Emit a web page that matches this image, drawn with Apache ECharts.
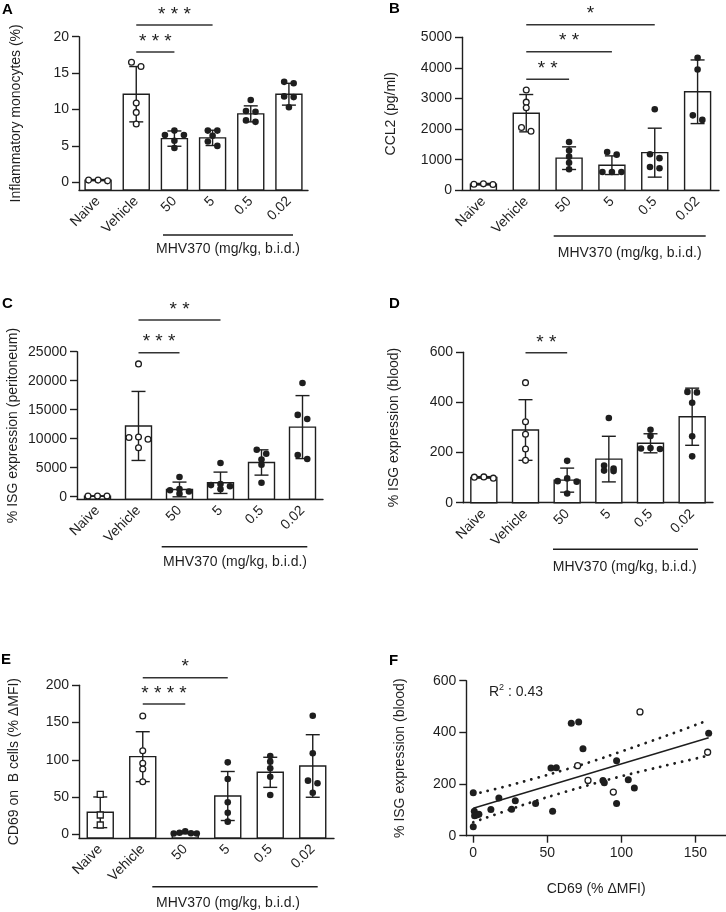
<!DOCTYPE html>
<html><head><meta charset="utf-8">
<script src="https://cdn.jsdelivr.net/npm/echarts@6/dist/echarts.min.js"></script>
<style>html,body{margin:0;padding:0;background:#fff}#c{width:726px;height:912px}</style>
</head><body><div id="c"></div>
<script>
// ---------------- DATA ----------------
const categories = ['Naive', 'Vehicle', '50', '5', '0.5', '0.02'];

// Panel A: Inflammatory monocytes (%)
const aPoints = [[0.2, 0.3, 0.3], [16.5, 15.9, 10.9, 9.6, 8.0], [7.1, 6.5, 6.5, 5.7, 4.7], [7.1, 7.1, 6.4, 5.6, 5.0], [11.3, 9.8, 9.7, 8.5, 8.3], [13.8, 13.6, 11.8, 11.7, 10.3]];
const aMean = [0.3, 12.1, 6.0, 6.1, 9.4, 12.1];
const aSD = [0.08, 3.8, 1.05, 1.05, 1.1, 1.5];
const aBrackets = [[1, 2, 17.9, '* * *'], [1, 3, 21.6, '* * *']];

// Panel B: CCL2 (pg/ml)
const bPoints = [[190, 210, 200], [3280, 2880, 2700, 2050, 1930], [1580, 1300, 1100, 900, 690], [1250, 1165, 600, 600, 600], [2650, 1180, 1050, 760, 720], [4330, 3950, 2450, 2300]];
const bMean = [200, 2520, 1050, 820, 1230, 3220];
const bSD = [25, 610, 370, 305, 800, 1040];
const bBrackets = [[1, 2, 3627, '* *'], [1, 3, 4529, '* *'], [1, 4, 5412, '*']];

// Panel C: % ISG expression (peritoneum)
const cPoints = [[100, 100, 100], [22900, 10300, 10200, 9900, 8450], [3400, 1300, 1100, 900, 500], [5800, 2200, 2000, 1800, 1300], [8100, 7400, 6400, 5500, 2400], [19600, 14100, 13400, 7200, 6500]];
const cMean = [100, 12200, 1250, 2400, 5900, 12000];
const cSD = [20, 5950, 1270, 1840, 2180, 5430];
const cBrackets = [[1, 2, 24828, '* * *'], [1, 3, 30466, '* *']];

// Panel D: % ISG expression (blood)
const dPoints = [[98, 103, 102], [479, 323, 273, 214, 169], [167, 97, 86, 84, 37], [338, 148, 136, 128, 126], [291, 266, 218, 214, 216], [442, 440, 399, 265, 185]];
const dMean = [101, 290, 90, 174, 237, 343];
const dSD = [3, 121, 48, 91, 38, 114];
const dBrackets = [[1, 2, 598, '* *']];

// Panel E: CD69 on B cells (% ΔMFI)
const ePoints = [[53.7, 25.9, 12.5], [158.8, 112.2, 95.3, 87.7, 70.6], [4, 2, 1.5, 1, 1], [96.6, 74.2, 43, 29, 17], [105, 97.5, 88.6, 77.3, 52.8], [159.2, 108.7, 72, 68.5, 55.8]];
const eMean = [29.5, 104.2, 1.9, 51.4, 83.2, 91.7];
const eSD = [20.6, 33.5, 1.2, 32.9, 20.2, 42.0];
const eBrackets = [[1, 2, 174.9, '* * * *'], [1, 3, 210.2, '*']];

// Panel F: correlation CD69 vs ISG (blood)
const fFilledX = [0, 0, 0.7, 0.9, 2.3, 3.8, 11.9, 17.3, 25.9, 28.4, 42.1, 52.5, 53.6, 56.1, 66.2, 71.2, 74.1, 87.6, 88.5, 96.8, 96.8, 104.7, 108.8, 159];
const fFilledY = [35, 166, 95, 77, 80, 83, 101, 146, 102, 135, 125, 262, 95, 263, 435, 440, 337, 214, 205, 290, 125, 217, 185, 397];
const fOpenX = [112.6, 70.5, 77.5, 94.6, 158.3];
const fOpenY = [479, 271, 214, 169, 323];
const fFitX = [0, 159];
const fFitY = [106, 379];
const fBandX = [0, 20, 40, 60, 80, 100, 120, 140, 159];
const fUpper = [160, 188, 219, 252, 287, 326, 366, 407, 448];
const fLower = [52, 92, 131, 166, 199, 230, 258, 285, 310];

// Tick labels
const aTicks = [0, 5, 10, 15, 20];
const bTicks = [0, 1000, 2000, 3000, 4000, 5000];
const cTicks = [0, 5000, 10000, 15000, 20000, 25000];
const dTicks = [0, 200, 400, 600];
const eTicks = [0, 50, 100, 150, 200];
const fXTicks = [0, 50, 100, 150];
const fYTicks = [0, 200, 400, 600];

// ---------------- STYLE / LAYOUT ----------------
const INK = '#1e1e1e';
const FONT = '"Liberation Sans", Arial, Helvetica, sans-serif';
const BAR_W = 26, CAP_W = 14, SWARM_D = 9.5, SWARM_MAXW = 23, ROW_H = 4.6, LW = 1.4;
const markersStd = ['open', 'open', 'filled', 'filled', 'filled', 'filled'];
const markersE = ['square', 'open', 'filled', 'filled', 'filled', 'filled'];

const panels = [
  { grid: { left: 79, top: 36.7, width: 229, height: 153.3 }, min: -1.06, max: 20, ticks: aTicks, points: aPoints, mean: aMean, sd: aSD, brackets: aBrackets, markers: markersStd, name: 'Inflammatory monocytes (%)', nameGap: 56 },
  { grid: { left: 462, top: 37.3, width: 257, height: 153 }, min: 0, max: 5000, ticks: bTicks, points: bPoints, mean: bMean, sd: bSD, brackets: bBrackets, markers: markersStd, name: 'CCL2 (pg/ml)', nameGap: 64 },
  { grid: { left: 77, top: 351.7, width: 246, height: 147.6 }, min: -448, max: 25000, ticks: cTicks, points: cPoints, mean: cMean, sd: cSD, brackets: cBrackets, markers: markersStd, name: '% ISG expression (peritoneum)', nameGap: 57 },
  { grid: { left: 463, top: 352.3, width: 250, height: 150.4 }, min: 0, max: 600, ticks: dTicks, points: dPoints, mean: dMean, sd: dSD, brackets: dBrackets, markers: markersStd, name: '% ISG expression (blood)', nameGap: 62 },
  { grid: { left: 79, top: 685.3, width: 255, height: 152.7 }, min: -4.97, max: 200, ticks: eTicks, points: ePoints, mean: eMean, sd: eSD, brackets: eBrackets, markers: markersE, name: 'CD69 on  B cells (% \u0394MFI)', nameGap: 58 }
];

function swarmOffsets(ys) {
  const order = ys.map((y, i) => i).sort((a, b) => ys[a] - ys[b]);
  const rows = [];
  order.forEach(i => {
    const r = rows[rows.length - 1];
    if (r && ys[i] - ys[r[0]] < ROW_H) r.push(i); else rows.push([i]);
  });
  const off = new Array(ys.length).fill(0);
  rows.forEach(r => {
    const n = r.length;
    const d = n > 1 ? Math.min(SWARM_D, SWARM_MAXW / (n - 1)) : 0;
    const slots = [];
    for (let k = 0; k < n; k++) slots.push((k - (n - 1) / 2) * d);
    slots.sort((p, q) => Math.abs(p) - Math.abs(q) || p - q);
    r.forEach((i, k) => { off[i] = slots[k]; });
  });
  return off;
}

function markerEl(kind, x, y) {
  if (kind === 'filled') return { type: 'circle', shape: { cx: x, cy: y, r: 3.3 }, style: { fill: INK } };
  if (kind === 'open') return { type: 'circle', shape: { cx: x, cy: y, r: 2.9 }, style: { fill: '#fff', stroke: INK, lineWidth: 1.3 } };
  return { type: 'rect', shape: { x: x - 3, y: y - 3, width: 6, height: 6 }, style: { fill: '#fff', stroke: INK, lineWidth: 1.3 } };
}

const grids = [], xAxes = [], yAxes = [], series = [];
const axisLineStyle = { color: INK, width: LW };
const labelStyle = { color: INK, fontSize: 14, fontFamily: FONT };
const plain = v => String(v);

panels.forEach((p, gi) => {
  grids.push(Object.assign({ containLabel: false, outerBoundsMode: 'none' }, p.grid));
  xAxes.push({
    type: 'category', gridIndex: gi, data: categories,
    axisLine: { onZero: false, lineStyle: axisLineStyle },
    axisTick: { alignWithLabel: true, length: 7, lineStyle: axisLineStyle },
    axisLabel: Object.assign({ rotate: 45, margin: 9, interval: 0 }, labelStyle),
    splitLine: { show: false }
  });
  yAxes.push({
    type: 'value', gridIndex: gi, min: p.min, max: p.max,
    axisLine: { show: true, onZero: false, lineStyle: axisLineStyle },
    axisTick: { show: true, length: 7, lineStyle: axisLineStyle, customValues: p.ticks },
    axisLabel: Object.assign({ margin: 10, customValues: p.ticks, formatter: plain }, labelStyle),
    splitLine: { show: false },
    name: p.name, nameLocation: 'middle', nameGap: p.nameGap,
    nameTextStyle: { color: INK, fontSize: 14, fontFamily: FONT }
  });
  // bars + error bars + points
  series.push({
    type: 'custom', xAxisIndex: gi, yAxisIndex: gi, clip: false, silent: true,
    data: categories.map((c, i) => [i, p.mean[i]]),
    encode: { x: 0, y: 1 },
    renderItem: function (params, api) {
      const i = params.dataIndex;
      const cs = params.coordSys;
      const baseY = cs.y + cs.height;
      const top = api.coord([i, p.mean[i]]);
      const cx = top[0];
      const ch = [];
      ch.push({ type: 'rect', shape: { x: cx - BAR_W / 2, y: top[1], width: BAR_W, height: baseY - top[1] }, style: { fill: '#fff', stroke: INK, lineWidth: LW } });
      const hi = api.coord([i, p.mean[i] + p.sd[i]])[1];
      const lo = api.coord([i, Math.max(p.min, p.mean[i] - p.sd[i])])[1];
      ch.push({ type: 'line', shape: { x1: cx, y1: hi, x2: cx, y2: lo }, style: { stroke: INK, lineWidth: LW } });
      ch.push({ type: 'line', shape: { x1: cx - CAP_W / 2, y1: hi, x2: cx + CAP_W / 2, y2: hi }, style: { stroke: INK, lineWidth: LW } });
      ch.push({ type: 'line', shape: { x1: cx - CAP_W / 2, y1: lo, x2: cx + CAP_W / 2, y2: lo }, style: { stroke: INK, lineWidth: LW } });
      const ys = p.points[i].map(v => api.coord([i, v])[1]);
      const off = swarmOffsets(ys);
      ys.forEach((y, k) => ch.push(markerEl(p.markers[i], cx + off[k], y)));
      return { type: 'group', children: ch };
    }
  });
  // significance brackets
  series.push({
    type: 'custom', xAxisIndex: gi, yAxisIndex: gi, clip: false, silent: true,
    data: p.brackets.map(b => [b[0], b[2]]),
    encode: { x: 0, y: 1 },
    renderItem: function (params, api) {
      const b = p.brackets[params.dataIndex];
      const a = api.coord([b[0], b[2]]);
      const e = api.coord([b[1], b[2]]);
      return {
        type: 'group', children: [
          { type: 'line', shape: { x1: a[0], y1: a[1], x2: e[0], y2: e[1] }, style: { stroke: '#333', lineWidth: LW } },
          { type: 'text', style: { text: b[3], x: (a[0] + e[0]) / 2, y: a[1] - 10.5, align: 'center', verticalAlign: 'middle', fontSize: 19, fontFamily: FONT, fill: INK } }
        ]
      };
    }
  });
});

// Panel F
const fi = 5;
grids.push({ left: 466.3, top: 680.7, width: 259.7, height: 155, containLabel: false, outerBoundsMode: 'none' });
xAxes.push({
  type: 'value', gridIndex: fi, min: -4.7, max: 170.7,
  axisLine: { onZero: false, lineStyle: axisLineStyle },
  axisTick: { length: 7, lineStyle: axisLineStyle, customValues: fXTicks },
  axisLabel: Object.assign({ margin: 10, customValues: fXTicks, formatter: plain }, labelStyle),
  splitLine: { show: false },
  name: 'CD69 (% \u0394MFI)', nameLocation: 'middle', nameGap: 46,
  nameTextStyle: { color: INK, fontSize: 14, fontFamily: FONT }
});
yAxes.push({
  type: 'value', gridIndex: fi, min: 0, max: 600,
  axisLine: { show: true, onZero: false, lineStyle: axisLineStyle },
  axisTick: { show: true, length: 7, lineStyle: axisLineStyle, customValues: fYTicks },
  axisLabel: Object.assign({ margin: 10, customValues: fYTicks, formatter: plain }, labelStyle),
  splitLine: { show: false },
  name: '% ISG expression (blood)', nameLocation: 'middle', nameGap: 59,
  nameTextStyle: { color: INK, fontSize: 14, fontFamily: FONT }
});
const dotted = { color: INK, width: 2.8, type: [0.1, 7.4], cap: 'round', opacity: 1 };
series.push(
  { type: 'line', xAxisIndex: fi, yAxisIndex: fi, data: fBandX.map((x, i) => [x, fUpper[i]]), smooth: true, symbol: 'none', lineStyle: dotted, silent: true, z: 2 },
  { type: 'line', xAxisIndex: fi, yAxisIndex: fi, data: fBandX.map((x, i) => [x, fLower[i]]), smooth: true, symbol: 'none', lineStyle: dotted, silent: true, z: 2 },
  { type: 'line', xAxisIndex: fi, yAxisIndex: fi, data: fFitX.map((x, i) => [x, fFitY[i]]), symbol: 'none', lineStyle: { color: INK, width: 1.5, opacity: 1 }, silent: true, z: 3 },
  { type: 'scatter', xAxisIndex: fi, yAxisIndex: fi, data: fFilledX.map((x, i) => [x, fFilledY[i]]), symbol: 'circle', symbolSize: 7, itemStyle: { color: INK, opacity: 1 }, silent: true, z: 4 },
  { type: 'scatter', xAxisIndex: fi, yAxisIndex: fi, data: fOpenX.map((x, i) => [x, fOpenY[i]]), symbol: 'circle', symbolSize: 6, itemStyle: { color: '#fff', borderColor: INK, borderWidth: 1.3, opacity: 1 }, silent: true, z: 4 }
);

// ---------------- ANNOTATIONS ----------------
const letterStyle = { fill: '#000', fontSize: 15, fontWeight: 'bold', fontFamily: FONT, align: 'left', verticalAlign: 'middle' };
const txt = (x, y, t, extra) => ({ type: 'text', x: x, y: y, style: Object.assign({ text: t, fill: INK, fontSize: 14, fontFamily: FONT, align: 'center', verticalAlign: 'middle' }, extra || {}) });
const hline = (x1, x2, y) => ({ type: 'line', shape: { x1: x1, y1: y, x2: x2, y2: y }, style: { stroke: INK, lineWidth: LW } });
const graphic = [
  txt(2, 10, 'A', letterStyle), txt(389, 9, 'B', letterStyle), txt(2, 304, 'C', letterStyle),
  txt(389, 304, 'D', letterStyle), txt(1, 660, 'E', letterStyle), txt(389, 661, 'F', letterStyle),
  hline(163, 293, 235), txt(228, 249.5, 'MHV370 (mg/kg, b.i.d.)'),
  hline(553.7, 705.7, 236), txt(629.7, 253.3, 'MHV370 (mg/kg, b.i.d.)'),
  hline(161.7, 307.3, 546.7), txt(235, 561.7, 'MHV370 (mg/kg, b.i.d.)'),
  hline(553, 698, 549.3), txt(624.7, 566.7, 'MHV370 (mg/kg, b.i.d.)'),
  hline(152.3, 317.7, 886.7), txt(228, 903.3, 'MHV370 (mg/kg, b.i.d.)'),
  { type: 'text', x: 489, y: 683, style: { text: '{r|R}{s|2}{r| : 0.43}', fontFamily: FONT, fill: INK, align: 'left', verticalAlign: 'top',
    rich: { r: { fontSize: 14, fontFamily: FONT, fill: INK, lineHeight: 16, verticalAlign: 'bottom' }, s: { fontSize: 9, fontFamily: FONT, fill: INK, lineHeight: 16, verticalAlign: 'top' } } } }
];

const chart = echarts.init(document.getElementById('c'), null, { renderer: 'canvas' });
chart.setOption({
  animation: false,
  backgroundColor: '#fff',
  textStyle: { fontFamily: FONT },
  grid: grids, xAxis: xAxes, yAxis: yAxes, series: series, graphic: graphic
});
</script>
</body></html>
